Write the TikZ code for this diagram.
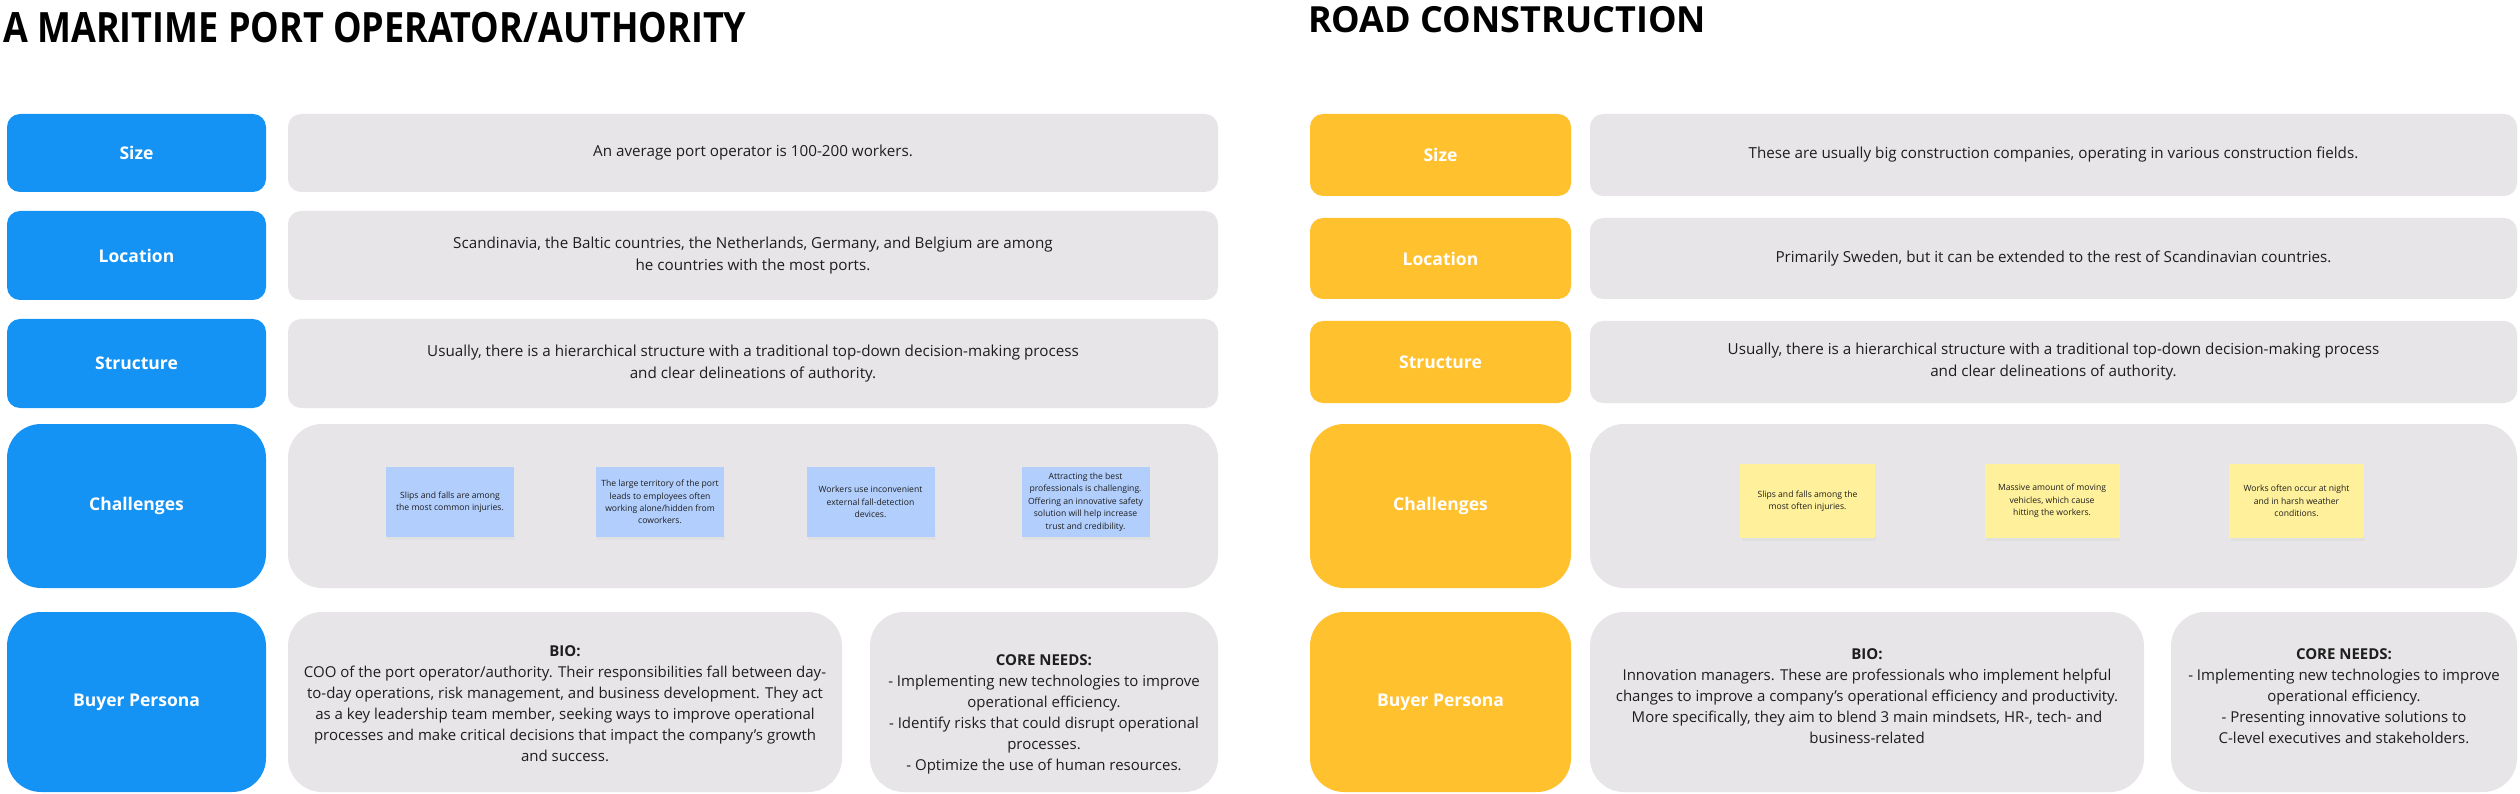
\documentclass[tikz,border=0pt]{standalone}
\usepackage{fontspec}
\setmainfont{Open Sans}
\definecolor{pblue}{HTML}{1493F5}
\definecolor{pyellow}{HTML}{FFC12E}
\definecolor{pgray}{HTML}{E7E5E8}
\definecolor{sblue}{HTML}{B1CEFC}
\definecolor{syellow}{HTML}{FFF09C}
\definecolor{ink}{HTML}{1E1E1E}
\tikzset{
  lab/.style={rounded corners=13pt, inner sep=0pt, text=white, font=\fontsize{17.5}{21}\selectfont\bfseries},
  biglab/.style={lab, rounded corners=34pt},
  cell/.style={fill=pgray, rounded corners=13pt, inner sep=0pt, text=ink, align=center, font=\fontsize{15.2}{22}\selectfont},
  bigcell/.style={cell, rounded corners=34pt},
  sticky/.style={inner sep=0pt, text=ink, align=center, font=\fontsize{8.6}{12.4}\selectfont},
  sshadow/.style={fill=black!12},
  ttl/.style={anchor=base west, inner sep=0pt, text=black, font=\fontsize{36}{44}\selectfont\bfseries},
  btxt/.style={align=center, inner sep=0pt, text=ink, font=\fontsize{15}{21}\selectfont}
}
\begin{document}
\begin{tikzpicture}[x=1pt,y=-1pt]
\useasboundingbox (0,0) rectangle (2520,794);
\fill[white] (0,0) rectangle (2520,794);
% ---------------- LEFT ----------------
\node[ttl] (t1) at (3,43) {\scalebox{1}[1.16]{A MARITIME PORT OPERATOR/AUTHORITY}};
\node[lab, fill=pblue, minimum width=259pt, minimum height=78pt] (l1) at (136.5,153) {Size};
\node[cell, minimum width=930pt, minimum height=78pt] (c1) at (753,153) {An average port operator is 100-200 workers.};
\node[lab, fill=pblue, minimum width=259pt, minimum height=89pt] (l2) at (136.5,255.5) {Location};
\node[cell, minimum width=930pt, minimum height=89pt] (c2) at (753,255.5) {Scandinavia, the Baltic countries, the Netherlands, Germany, and Belgium are among\\he countries with the most ports.};
\node[lab, fill=pblue, minimum width=259pt, minimum height=89pt] (l3) at (136.5,363.5) {Structure};
\node[cell, minimum width=930pt, minimum height=89pt] (c3) at (753,363.5) {Usually, there is a hierarchical structure with a traditional top-down decision-making process\\and clear delineations of authority.};
\node[biglab, fill=pblue, minimum width=259pt, minimum height=164pt] (l4) at (136.5,506) {Challenges};
\node[bigcell, minimum width=930pt, minimum height=164pt] (c4) at (753,506) {};
\node[biglab, fill=pblue, minimum width=259pt, minimum height=180pt] (l5) at (136.5,702) {Buyer Persona};
\node[bigcell, minimum width=554pt, minimum height=180pt] (c5) at (565,702) {};
\node[bigcell, minimum width=348pt, minimum height=180pt] (c6) at (1044,702) {};
\node[btxt] (b1) at (565,704) {\textbf{BIO:}\\COO of the port operator/authority. Their responsibilities fall between day-\\to-day operations, risk management, and business development. They act\\as a key leadership team member, seeking ways to improve operational\\processes and make critical decisions that impact the company's growth\\and success.};
\node[btxt] (n1) at (1044,714) {\textbf{CORE NEEDS:}\\- Implementing new technologies to improve\\operational efficiency.\\- Identify risks that could disrupt operational\\processes.\\- Optimize the use of human resources.};
% stickies left
\foreach \cx in {450,660,870.5,1085.5}{
  \fill[sshadow] (\cx-63,535) rectangle (\cx+65,540);
}
\node[sticky, fill=sblue, minimum width=128pt, minimum height=70pt] (s1) at (450,502) {Slips and falls are among\\the most common injuries.};
\node[sticky, fill=sblue, minimum width=128pt, minimum height=70pt] (s2) at (660,502) {The large territory of the port\\leads to employees often\\working alone/hidden from\\coworkers.};
\node[sticky, fill=sblue, minimum width=128pt, minimum height=70pt] (s3) at (870.5,502) {Workers use inconvenient\\external fall-detection\\devices.};
\node[sticky, fill=sblue, minimum width=128pt, minimum height=70pt] (s4) at (1085.5,502) {Attracting the best\\professionals is challenging.\\Offering an innovative safety\\solution will help increase\\trust and credibility.};
% ---------------- RIGHT ----------------
\node[ttl] (t2) at (1308,33) {ROAD CONSTRUCTION};
\node[lab, fill=pyellow, minimum width=261pt, minimum height=82pt] (r1) at (1440.5,155) {Size};
\node[cell, minimum width=927pt, minimum height=82pt] (d1) at (2053.5,155) {These are usually big construction companies, operating in various construction fields.};
\node[lab, fill=pyellow, minimum width=261pt, minimum height=81pt] (r2) at (1440.5,258.5) {Location};
\node[cell, minimum width=927pt, minimum height=81pt] (d2) at (2053.5,258.5) {Primarily Sweden, but it can be extended to the rest of Scandinavian countries.};
\node[lab, fill=pyellow, minimum width=261pt, minimum height=82pt] (r3) at (1440.5,362) {Structure};
\node[cell, minimum width=927pt, minimum height=82pt] (d3) at (2053.5,362) {Usually, there is a hierarchical structure with a traditional top-down decision-making process\\and clear delineations of authority.};
\node[biglab, fill=pyellow, minimum width=261pt, minimum height=164pt] (r4) at (1440.5,506) {Challenges};
\node[bigcell, minimum width=927pt, minimum height=164pt] (d4) at (2053.5,506) {};
\node[biglab, fill=pyellow, minimum width=261pt, minimum height=180pt] (r5) at (1440.5,702) {Buyer Persona};
\node[bigcell, minimum width=554pt, minimum height=180pt] (d5) at (1867,702) {};
\node[bigcell, minimum width=346pt, minimum height=180pt] (d6) at (2344,702) {};
\node[btxt] (b2) at (1867,696) {\textbf{BIO:}\\Innovation managers. These are professionals who implement helpful\\changes to improve a company's operational efficiency and productivity.\\More specifically, they aim to blend 3 main mindsets, HR-, tech- and\\business-related};
\node[btxt] (n2) at (2344,696) {\textbf{CORE NEEDS:}\\- Implementing new technologies to improve\\operational efficiency.\\- Presenting innovative solutions to\\C-level executives and stakeholders.};
\foreach \cx in {1807.5,2052,2296.5}{
  \fill[sshadow] (\cx-66,536) rectangle (\cx+68,541);
}
\node[sticky, fill=syellow, minimum width=135pt, minimum height=74pt] (y1) at (1807.5,501) {Slips and falls among the\\most often injuries.};
\node[sticky, fill=syellow, minimum width=135pt, minimum height=74pt] (y2) at (2052,501) {Massive amount of moving\\vehicles, which cause\\hitting the workers.};
\node[sticky, fill=syellow, minimum width=135pt, minimum height=74pt] (y3) at (2296.5,501) {Works often occur at night\\and in harsh weather\\conditions.};
\end{tikzpicture}
\end{document}
